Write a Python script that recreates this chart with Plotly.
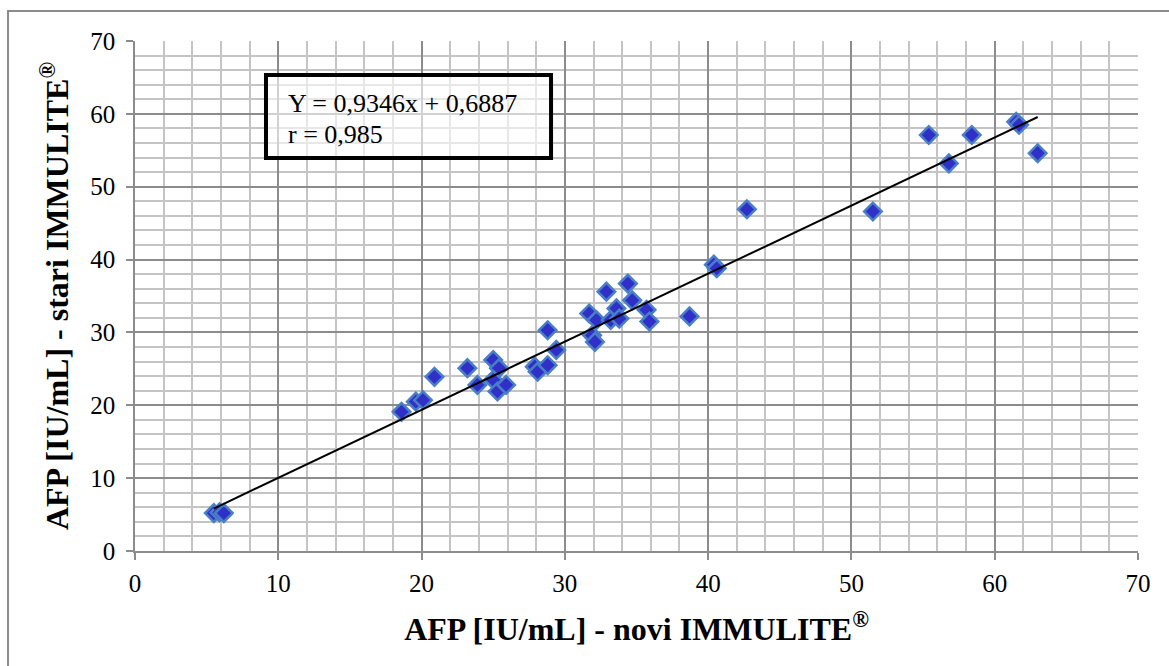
import plotly.graph_objects as go

# Data
x_novi = [5.5, 5.9, 6.2, 18.6, 19.6, 20.1, 20.9, 23.2, 23.9, 25.0, 25.4, 25.0, 25.3, 25.9,
          27.9, 28.1, 28.8, 28.8, 29.4, 31.7, 32.2, 31.9, 32.1, 32.9, 33.2, 33.6, 33.8, 34.4,
          34.7, 35.7, 35.9, 38.7, 40.4, 40.6, 42.7, 51.5, 55.4, 56.8, 58.4, 61.5, 61.7, 63.0]
y_stari = [5.2, 5.3, 5.2, 19.1, 20.5, 20.7, 23.9, 25.1, 22.8, 26.2, 25.1, 23.5, 21.9, 22.8,
           25.3, 24.6, 25.5, 30.3, 27.6, 32.6, 31.7, 29.6, 28.7, 35.6, 31.7, 33.3, 31.9, 36.7,
           34.4, 33.1, 31.5, 32.2, 39.3, 38.8, 46.9, 46.6, 57.1, 53.2, 57.1, 58.9, 58.5, 54.6]
slope = 0.9346
intercept = 0.6887
r_value = "0,985"
tick_vals = [0, 10, 20, 30, 40, 50, 60, 70]

line_x = [min(x_novi), max(x_novi)]
line_y = [slope * v + intercept for v in line_x]

FONT = "Liberation Serif, Times New Roman, serif"

fig = go.Figure()
fig.add_trace(go.Scatter(
    x=x_novi, y=y_stari, mode="markers",
    marker=dict(symbol="diamond", size=13.5, color="#3030C8",
                line=dict(color="#4A7EC6", width=2.5)),
    showlegend=False, hoverinfo="x+y"))
fig.add_trace(go.Scatter(
    x=line_x, y=line_y, mode="lines",
    line=dict(color="black", width=2), showlegend=False))

axis_common = dict(
    range=[0, 70], tickvals=tick_vals, ticks="outside", ticklen=7,
    tickcolor="#8c8c8c", tickwidth=1.5,
    showline=True, linecolor="#8c8c8c", linewidth=1.5,
    showgrid=True, gridcolor="#8c8c8c", gridwidth=1.5,
    minor=dict(dtick=2, showgrid=True, gridcolor="#c4c4c4", gridwidth=1.5, ticks=""),
    zeroline=False,
    tickfont=dict(family=FONT, size=25, color="black"),
)

fig.update_layout(
    width=1169, height=666,
    margin=dict(l=135, r=31, t=41, b=115),
    paper_bgcolor="white", plot_bgcolor="white",
    xaxis=dict(**axis_common, ticklabelstandoff=2,
               title=dict(text="<b>AFP [IU/mL] - novi IMMULITE<sup>®</sup></b>",
                          font=dict(family=FONT, size=32, color="black"), standoff=22)),
    yaxis=dict(**axis_common, ticklabelstandoff=6,
               title=dict(text="<b>AFP [IU/mL] - stari IMMULITE<sup>®</sup></b>",
                          font=dict(family=FONT, size=32, color="black"), standoff=12)),
    shapes=[
        dict(type="rect", xref="paper", yref="paper", x0=-0.1266, x1=1.2, y0=-0.5, y1=1.0588,
             line=dict(color="#8c8c8c", width=2), fillcolor="rgba(0,0,0,0)", layer="below"),
        dict(type="rect", xref="paper", yref="paper", x0=0.1306, x1=0.4148, y0=0.7706, y1=0.9333,
             line=dict(color="black", width=4), fillcolor="rgba(255,255,255,0.6)"),
    ],
    annotations=[
        dict(xref="paper", yref="paper", x=0.1505, y=0.8765, xanchor="left", yanchor="middle",
             text="Y = 0,9346x + 0,6887", showarrow=False,
             font=dict(family=FONT, size=26, color="black")),
        dict(xref="paper", yref="paper", x=0.1505, y=0.8166, xanchor="left", yanchor="middle",
             text="r = " + r_value, showarrow=False,
             font=dict(family=FONT, size=26, color="black")),
    ],
)

fig.write_html("out.html")
